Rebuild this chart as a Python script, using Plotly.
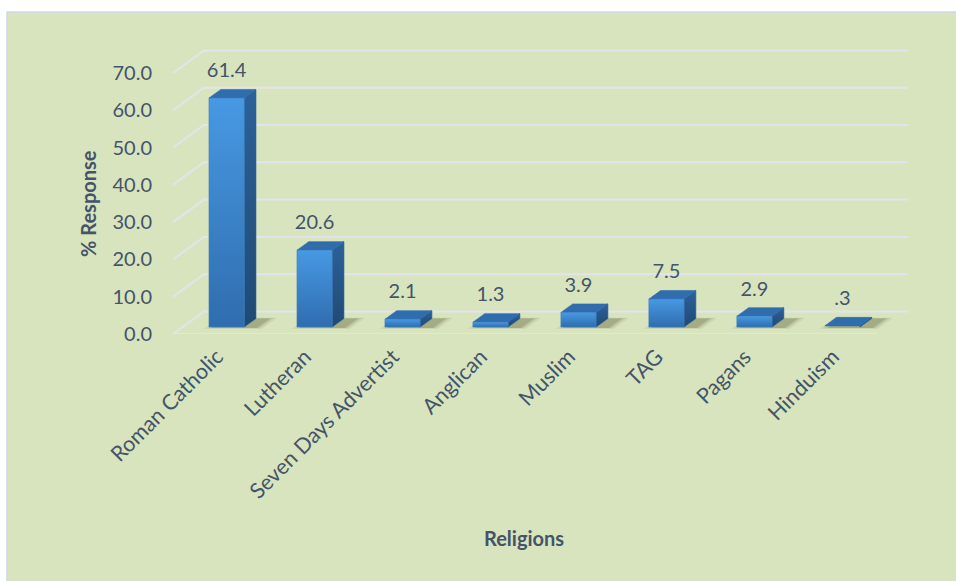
import plotly.graph_objects as go

# ---------------- data ----------------
categories = ["Roman Catholic", "Lutheran", "Seven Days Advertist", "Anglican",
              "Muslim", "TAG", "Pagans", "Hinduism"]
values = [61.4, 20.6, 2.1, 1.3, 3.9, 7.5, 2.9, 0.3]
value_labels = ["61.4", "20.6", "2.1", "1.3", "3.9", "7.5", "2.9", ".3"]
y_ticks = [0, 10, 20, 30, 40, 50, 60, 70]
y_ticktext = ["0.0", "10.0", "20.0", "30.0", "40.0", "50.0", "60.0", "70.0"]
y_title = "% Response"
x_title = "Religions"

# ---------------- styling / pseudo-3D geometry ----------------
FONT = "Lato, 'Open Sans', sans-serif"
TXT = "#44546A"
GRID = "#E3E4EA"
BG = "#D8E4BD"
DX, DY = 0.352, 6.03          # full-depth oblique offset (category units, value units)
D0, D1 = 0.31, 0.69           # bar depth span
BW = 0.40                     # bar width (category units)
W_PX, H_PX = 956, 581
ML, MR, MT, MB = 173, 44, 46, 247
XR = [-0.5, 7.9]
YR = [0, 288 / 3.73]

def off(x, v, d):
    return x + d * DX, v + d * DY

fig = go.Figure()

# ---- walls / gridlines ----
n = len(categories)
gx, gy = [], []
for t in y_ticks:
    a = off(-0.5, t, 0); b = off(-0.5, t, 1); c = off(n - 0.5, t, 1)
    gx += [a[0], b[0], c[0], None]
    gy += [a[1], b[1], c[1], None]
# front floor edge
fa = off(-0.5, 0, 0); fb = off(n - 0.5, 0, 0)
gx += [fa[0], fb[0], None]; gy += [fa[1], fb[1], None]
fig.add_trace(go.Scatter(x=gx, y=gy, mode="lines", line=dict(color=GRID, width=2),
                         hoverinfo="skip", showlegend=False))

def poly(pts, **kw):
    xs = [p[0] for p in pts] + [pts[0][0]]
    ys = [p[1] for p in pts] + [pts[0][1]]
    fig.add_trace(go.Scatter(x=xs, y=ys, mode="lines", fill="toself",
                             hoverinfo="skip", showlegend=False, **kw))

# ---- shadows (soft, layered) ----
for i, v in enumerate(values):
    xl = i - BW / 2 + 0.04
    xr = i + BW / 2 + 0.16
    for grow, alpha in [(0.07, 0.08), (0.035, 0.12), (0.0, 0.18)]:
        pts = [off(xl - grow, 0, D0 - 0.04 - grow / 2), off(xr + grow, 0, D0 - 0.04 - grow / 2),
               off(xr + grow, 0, D1 + grow / 2), off(xl - grow, 0, D1 + grow / 2)]
        poly(pts, line=dict(width=0, color="rgba(0,0,0,0)"),
             fillcolor=f"rgba(60,65,25,{alpha})")

# ---- bars ----
for i, v in enumerate(values):
    xl = i - BW / 2
    xr = i + BW / 2
    # side face
    side = [off(xr, 0, D0), off(xr, 0, D1), off(xr, v, D1), off(xr, v, D0)]
    poly(side, line=dict(width=0.6, color="#25558A"),
         fillgradient=dict(type="vertical",
                           colorscale=[[0, "#1F4A76"], [1, "#2C619A"]]))
    # top face
    top = [off(xl, v, D0), off(xr, v, D0), off(xr, v, D1), off(xl, v, D1)]
    poly(top, line=dict(width=0.6, color="#2F6BAA"), fillcolor="#2F6DAD")
    # front face
    if v > 0.5:
        front = [off(xl, 0, D0), off(xr, 0, D0), off(xr, v, D0), off(xl, v, D0)]
        poly(front, line=dict(width=0.6, color="#3C82C8"),
             fillgradient=dict(type="vertical",
                               colorscale=[[0, "#2F6DAE"], [1, "#4799E3"]]))

# ---- value labels ----
lx = [i + D0 * DX for i in range(n)]
ly = [v + D1 * DY + 4.6 for v in values]
fig.add_trace(go.Scatter(x=lx, y=ly, mode="text", text=value_labels,
                         textposition="middle center",
                         textfont=dict(family=FONT, size=20, color=TXT),
                         hoverinfo="skip", showlegend=False))

# ---- chart area background (paper coords from pixels) ----
PW = W_PX - ML - MR
PH = H_PX - MT - MB
def px2paper_x(px):
    return (px - ML) / PW
def py2paper_y(py):
    return (H_PX - MB - py) / PH

shapes = [dict(type="rect", xref="paper", yref="paper",
               x0=px2paper_x(7), x1=px2paper_x(W_PX + 5),
               y0=py2paper_y(H_PX + 5), y1=py2paper_y(12),
               fillcolor=BG, line=dict(color="#D3D7E8", width=1.5), layer="below")]

annotations = [
    dict(text=f"<b>{y_title}</b>", xref="paper", yref="paper",
         x=px2paper_x(88), y=py2paper_y(204), textangle=-90, showarrow=False,
         font=dict(family=FONT, size=20, color=TXT), xanchor="center", yanchor="middle"),
    dict(text=f"<b>{x_title}</b>", xref="paper", yref="paper",
         x=px2paper_x(524), y=py2paper_y(538), showarrow=False,
         font=dict(family=FONT, size=20, color=TXT), xanchor="center", yanchor="middle"),
]

fig.update_layout(
    width=W_PX, height=H_PX,
    margin=dict(l=ML, r=MR, t=MT, b=MB, pad=0),
    paper_bgcolor="white", plot_bgcolor="rgba(0,0,0,0)",
    shapes=shapes, annotations=annotations, showlegend=False,
    xaxis=dict(range=XR, showgrid=False, zeroline=False, showline=False,
               tickmode="array", tickvals=list(range(n)), ticktext=categories,
               tickangle=-45, tickfont=dict(family=FONT, size=21.5, color=TXT),
               ticks="", ticklabelstandoff=5, fixedrange=True),
    yaxis=dict(range=YR, showgrid=False, zeroline=False, showline=False,
               tickmode="array", tickvals=y_ticks, ticktext=y_ticktext,
               tickfont=dict(family=FONT, size=20, color=TXT),
               ticks="", ticklabelstandoff=20, fixedrange=True),
)

fig.write_html("out.html", config={"displayModeBar": False},
               post_script="document.body.style.margin='0';document.body.style.overflow='hidden';")
